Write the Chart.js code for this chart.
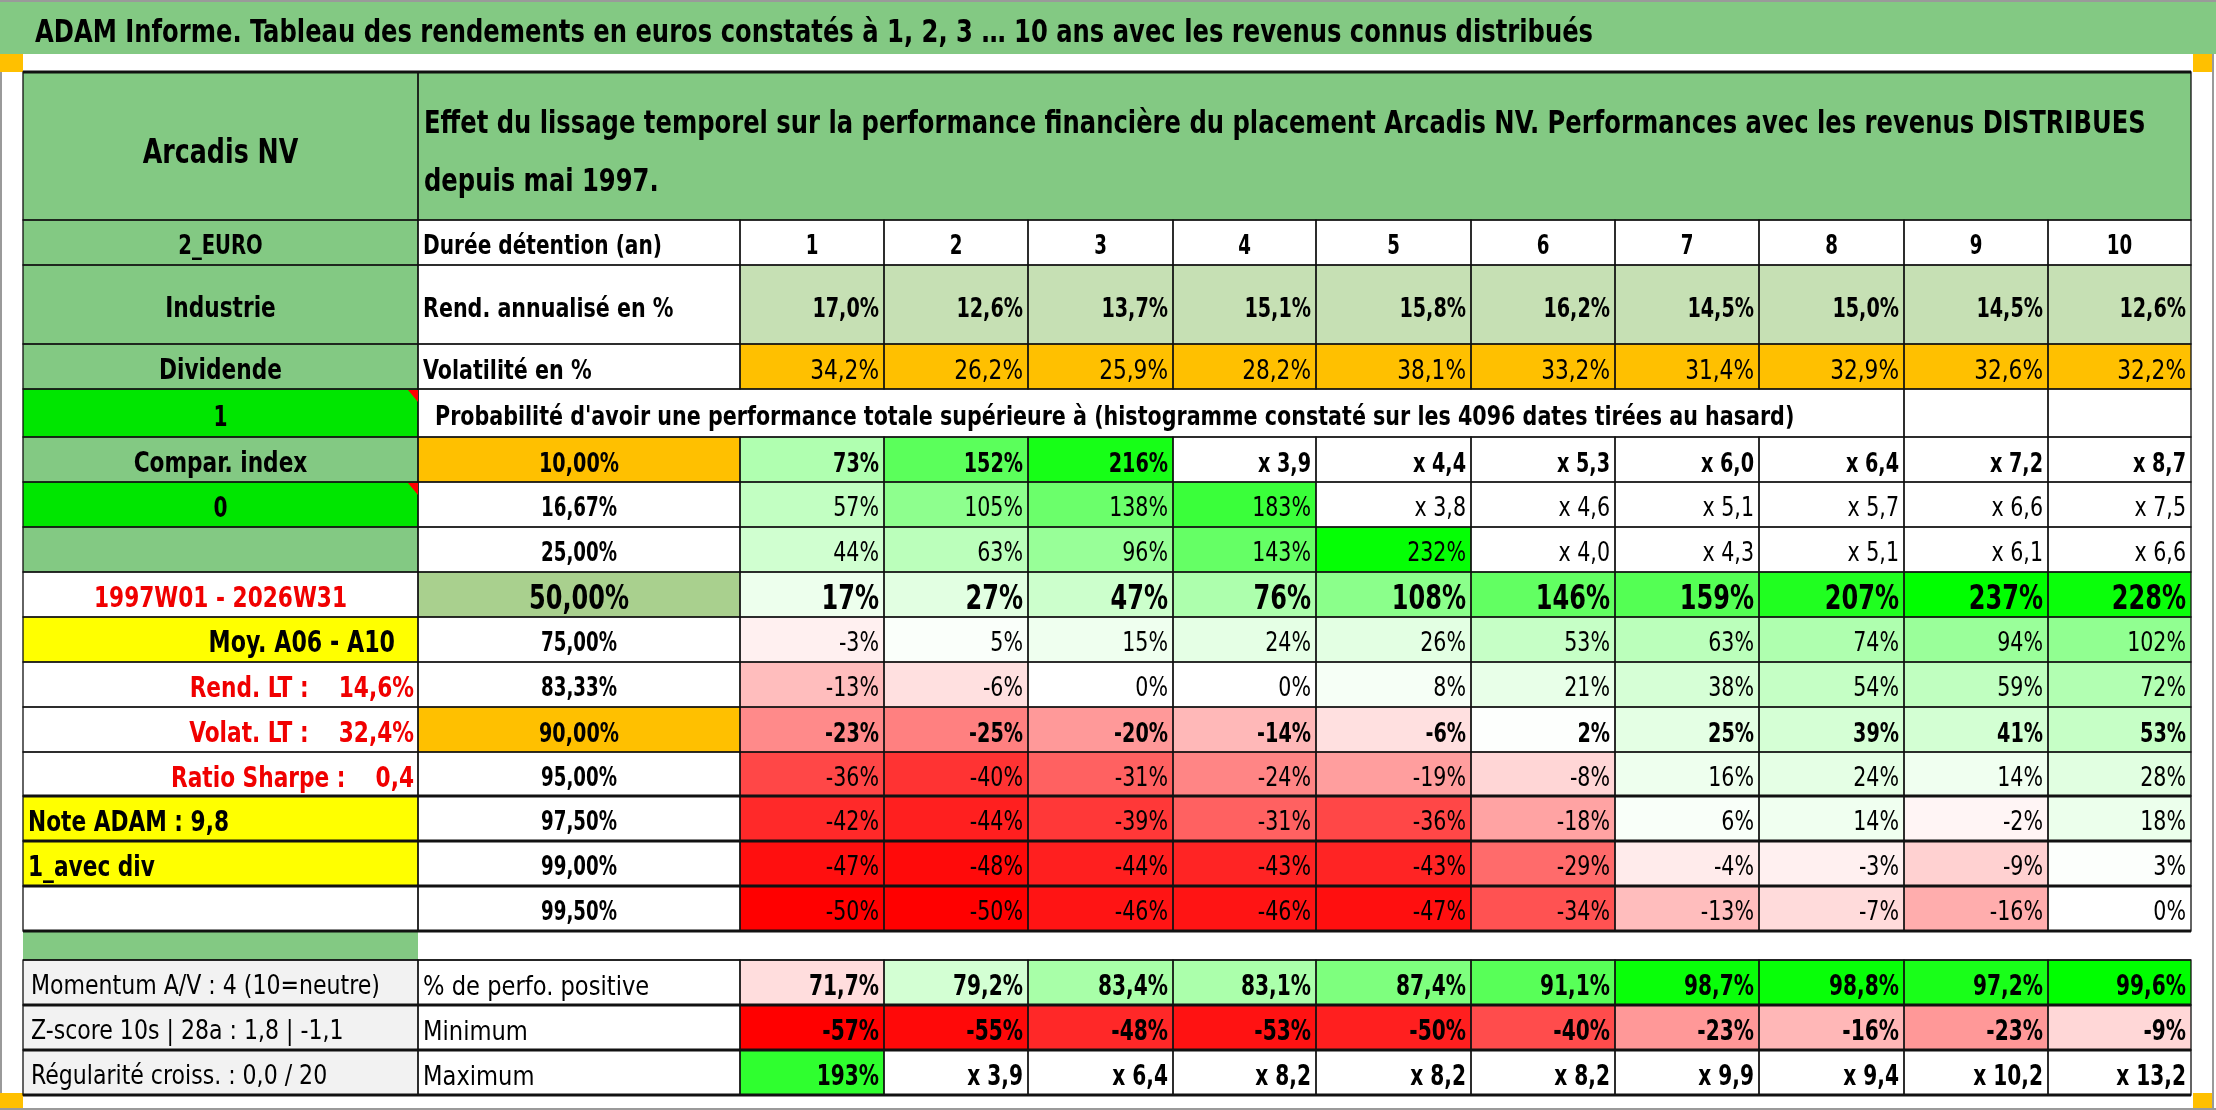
<!DOCTYPE html>
<html lang="fr">
<head>
<meta charset="utf-8">
<title>ADAM Informe – Arcadis NV</title>
<script src="https://cdn.jsdelivr.net/npm/chart.js@4.4.1/dist/chart.umd.min.js"></script>
<style>
  html, body { margin: 0; padding: 0; background: #fff; overflow: hidden; }
  #wrap { width: 2216px; height: 1110px; }
</style>
</head>
<body>
<div id="wrap"><canvas id="tableau" width="2216" height="1110"></canvas></div>
<script>
// ---- textes ----
const titre = 'ADAM Informe. Tableau des rendements en euros constatés à 1, 2, 3 … 10 ans avec les revenus connus distribués';
const enTete = [
  'Effet du lissage temporel sur la performance financière du placement Arcadis NV. Performances avec les revenus DISTRIBUES',
  'depuis mai 1997.'
];
const probaTexte = "Probabilité d'avoir une performance totale supérieure à (histogramme constaté sur les 4096 dates tirées au hasard)";
const libelles = ['Durée détention (an)', 'Rend. annualisé en %', 'Volatilité en %'];
const libellesBas = ['% de perfo. positive', 'Minimum', 'Maximum'];
const gaucheTextes = [
  'Arcadis NV', '2_EURO', 'Industrie', 'Dividende', '1', 'Compar. index', '0', '',
  '1997W01 - 2026W31', 'Moy. A06 - A10', 'Rend. LT :    14,6%', 'Volat. LT :    32,4%',
  'Ratio Sharpe :    0,4', 'Note ADAM : 9,8', '1_avec div', '', '',
  'Momentum A/V : 4 (10=neutre)', 'Z-score 10s | 28a : 1,8 | -1,1', 'Régularité croiss. : 0,0 / 20'
];

// ---- valeurs ----
const durees = ['1', '2', '3', '4', '5', '6', '7', '8', '9', '10'];
const rendAnnualise = [17.0, 12.6, 13.7, 15.1, 15.8, 16.2, 14.5, 15.0, 14.5, 12.6];
const volatilite = [34.2, 26.2, 25.9, 28.2, 38.1, 33.2, 31.4, 32.9, 32.6, 32.2];
const seuils = [10.00, 16.67, 25.00, 50.00, 75.00, 83.33, 90.00, 95.00, 97.50, 99.00, 99.50];

// performance totale en % (les multiples sont gardés tels qu'affichés)
const perf10   = [73, 152, 216, 'x 3,9', 'x 4,4', 'x 5,3', 'x 6,0', 'x 6,4', 'x 7,2', 'x 8,7'];
const perf1667 = [57, 105, 138, 183, 'x 3,8', 'x 4,6', 'x 5,1', 'x 5,7', 'x 6,6', 'x 7,5'];
const perf25   = [44, 63, 96, 143, 232, 'x 4,0', 'x 4,3', 'x 5,1', 'x 6,1', 'x 6,6'];
const perf50   = [17, 27, 47, 76, 108, 146, 159, 207, 237, 228];
const perf75   = [-3, 5, 15, 24, 26, 53, 63, 74, 94, 102];
const perf8333 = [-13, -6, 0, 0, 8, 21, 38, 54, 59, 72];
const perf90   = [-23, -25, -20, -14, -6, 2, 25, 39, 41, 53];
const perf95   = [-36, -40, -31, -24, -19, -8, 16, 24, 14, 28];
const perf975  = [-42, -44, -39, -31, -36, -18, 6, 14, -2, 18];
const perf99   = [-47, -48, -44, -43, -43, -29, -4, -3, -9, 3];
const perf995  = [-50, -50, -46, -46, -47, -34, -13, -7, -16, 0];
const perfRows = [perf10, perf1667, perf25, perf50, perf75, perf8333, perf90, perf95, perf975, perf99, perf995];

const pctPositive = [71.7, 79.2, 83.4, 83.1, 87.4, 91.1, 98.7, 98.8, 97.2, 99.6];
const minimum = [-57, -55, -48, -53, -50, -40, -23, -16, -23, -9];
const maximum = [193, 'x 3,9', 'x 6,4', 'x 8,2', 'x 8,2', 'x 8,2', 'x 9,9', 'x 9,4', 'x 10,2', 'x 13,2'];

// ---- mise en page (largeurs / hauteurs en px) ----
const colWidths = [395, 322, 144, 144, 145, 143, 155, 144, 144, 145, 144, 143];
const rowHeights = [148, 45, 79, 45, 48, 45, 45, 45, 45, 45, 45, 45, 44, 45, 45, 45, 29, 45, 45, 45];
const thickEdges = [13, 14, 15, 16, 18, 19, 20];

const cumul = arr => arr.reduce((acc, w) => { acc.push(acc[acc.length - 1] + w); return acc; }, [0]);
const colEdges = cumul(colWidths);
const rowEdges = cumul(rowHeights);

const FONT = "'Liberation Sans Narrow', 'DejaVu Sans Condensed', 'Liberation Sans', sans-serif";
const VERT = '#83c983', VIF = '#00e600', JAUNE = '#ffff00', GRIS = '#f2f2f2', ROUGE = '#f00000';
const ORANGE = '#ffc000', VERT_CLAIR = '#c6e0b4', VERT_50 = '#a9d08e';

const pct1 = v => v.toFixed(1).replace('.', ',') + '%';
const pct2 = v => v.toFixed(2).replace('.', ',') + '%';
const fmtPerf = v => typeof v === 'number' ? v + '%' : v;

// échelle de couleurs rouge - blanc - vert
function mix(t, r, g, b) {
  t = Math.max(0, Math.min(1, t));
  const c = (from, to) => Math.round(from + (to - from) * t);
  return `rgb(${c(255, r)},${c(255, g)},${c(255, b)})`;
}
function heat(v, lo, mid, hi) {
  if (typeof v !== 'number') return '#ffffff';
  if (v >= mid) return mix((v - mid) / (hi - mid), 0, 255, 0);
  return mix((mid - v) / (mid - lo), 255, 0, 0);
}
const blocMin = Math.min(...perfRows.flat().filter(v => typeof v === 'number'));
const blocMax = Math.max(...perfRows.flat().filter(v => typeof v === 'number'));

// ---- construction des cellules ----
const cells = [];
function cell(r, c0, c1, o) {
  cells.push(Object.assign({ r, c0, c1, fill: '#ffffff', border: true, text: '', align: 'center',
    bold: true, cap: 20, color: '#000', pad: 5, dy: 2 }, o));
}

const gaucheStyle = [
  { fill: VERT, cap: 24.5, dy: 5 }, { fill: VERT, cap: 19 }, { fill: VERT, cap: 21 }, { fill: VERT, cap: 21 },
  { fill: VIF, cap: 21, flag: true }, { fill: VERT, cap: 21 }, { fill: VIF, cap: 21, flag: true }, { fill: VERT },
  { color: ROUGE, cap: 21 }, { fill: JAUNE, align: 'right', pad: 23, cap: 21.5 },
  { color: ROUGE, align: 'right', pad: 4, cap: 21 }, { color: ROUGE, align: 'right', pad: 4, cap: 21 },
  { color: ROUGE, align: 'right', pad: 4, cap: 21 }, { fill: JAUNE, align: 'left', cap: 21 },
  { fill: JAUNE, align: 'left', cap: 21 }, {}, { fill: VERT, border: false },
  { fill: GRIS, align: 'left', bold: false, cap: 19.5, pad: 8 }, { fill: GRIS, align: 'left', bold: false, cap: 19.5, pad: 8 },
  { fill: GRIS, align: 'left', bold: false, cap: 19.5, pad: 8 }
];
gaucheTextes.forEach((t, r) => cell(r, 0, 1, Object.assign({ text: t }, gaucheStyle[r])));

// en-tête fusionné
cell(0, 1, 12, { fill: VERT, lines: enTete, cap: 23.5, align: 'left' });

// durée / rendement / volatilité
libelles.forEach((t, i) => cell(1 + i, 1, 2, { text: t, align: 'left', cap: i === 0 ? 19.5 : 20 }));
durees.forEach((d, i) => cell(1, 2 + i, 3 + i, { text: d, cap: 19 }));
rendAnnualise.forEach((v, i) => cell(2, 2 + i, 3 + i, { text: pct1(v), fill: VERT_CLAIR, align: 'right', cap: 20 }));
volatilite.forEach((v, i) => cell(3, 2 + i, 3 + i, { text: pct1(v), fill: ORANGE, align: 'right', bold: false, cap: 20 }));

// ligne probabilité
cell(4, 1, 10, { text: probaTexte, align: 'left', pad: 17, cap: 20 });
cell(4, 10, 11, {});
cell(4, 11, 12, {});

// bloc des seuils
const seuilStyle = {
  0: { fill: ORANGE, bold: true, cap: 20 },
  3: { fill: VERT_50, bold: true, cap: 25 },
  6: { fill: ORANGE, bold: true, cap: 20 }
};
seuils.forEach((s, k) => {
  const st = seuilStyle[k] || { bold: false, cap: 19 };
  const r = 5 + k;
  cell(r, 1, 2, { text: pct2(s), fill: st.fill || '#ffffff', bold: true, cap: st.cap });
  perfRows[k].forEach((v, i) => cell(r, 2 + i, 3 + i, {
    text: fmtPerf(v), align: 'right', bold: st.bold, cap: st.cap,
    fill: heat(v, blocMin, 0, blocMax)
  }));
});

// ligne vide
cell(16, 1, 12, { border: false });

// statistiques du bas
libellesBas.forEach((t, i) => cell(17 + i, 1, 2, { text: t, align: 'left', bold: false, cap: 20 }));
pctPositive.forEach((v, i) => cell(17, 2 + i, 3 + i, { text: pct1(v), align: 'right', cap: 21,
  fill: heat(v, 50, 75, Math.max(...pctPositive)) }));
minimum.forEach((v, i) => cell(18, 2 + i, 3 + i, { text: fmtPerf(v), align: 'right', cap: 21,
  fill: heat(v, Math.min(...minimum), 0, blocMax) }));
maximum.forEach((v, i) => cell(19, 2 + i, 3 + i, { text: fmtPerf(v), align: 'right', cap: 21,
  fill: heat(v, blocMin, 0, blocMax) }));

// ---- dessin du tableau via les échelles du graphique ----
// largeurs relevées sur la référence (en hauteurs de capitale) pour caler la police de remplacement
let capRatio = null;
const squeeze = { txt: { true: 1, false: 1 }, num: { true: 1, false: 1 } };
function calibrate(ctx) {
  const m = (txt, bold) => { ctx.font = `${bold ? 'bold ' : ''}100px ${FONT}`; return ctx.measureText(txt); };
  capRatio = { true: m('H', true).actualBoundingBoxAscent / 100, false: m('H', false).actualBoundingBoxAscent / 100 };
  const perCap = (txt, bold) => m(txt, bold).width / (capRatio[bold] * 100);
  squeeze.txt.true = (1559 / 23.5) / perCap(titre, true);
  squeeze.txt.false = (349 / 19.5) / perCap('Momentum A/V : 4 (10=neutre)', false);
  squeeze.num.true = 4.0 / perCap('50,00%', true);
  squeeze.num.false = 3.1 / perCap('105%', false);
}
const isNum = s => /\d/.test(s) && /^[-x\s\d,.%]+$/.test(s);

function drawText(ctx, str, x, yMid, o) {
  const bold = !!o.bold;
  const size = o.cap / capRatio[bold];
  const sx = (isNum(str) ? squeeze.num : squeeze.txt)[bold];
  ctx.save();
  ctx.font = `${bold ? 'bold ' : ''}${size.toFixed(2)}px ${FONT}`;
  ctx.fillStyle = o.color || '#000';
  ctx.textAlign = o.align || 'left';
  ctx.textBaseline = 'alphabetic';
  ctx.translate(x, yMid + o.cap / 2);
  ctx.scale(sx, 1);
  if (o.maxWidth) ctx.fillText(str, 0, 0, o.maxWidth / sx);
  else ctx.fillText(str, 0, 0);
  ctx.restore();
}

const tablePlugin = {
  id: 'tableau',
  beforeDraw(chart) {
    const { ctx, width, height, chartArea } = chart;
    if (!capRatio) calibrate(ctx);
    const barH = chartArea.top - 18;
    ctx.save();
    ctx.fillStyle = '#ffffff';
    ctx.fillRect(0, 0, width, height);
    ctx.fillStyle = VERT;
    ctx.fillRect(0, 0, width, barH);
    ctx.fillStyle = '#9a9a9a';
    ctx.fillRect(0, 0, width, 2);
    ctx.fillRect(0, barH, 2, height - barH);
    ctx.fillRect(width - 4, barH, 2, height - barH);
    ctx.fillRect(0, height - 2, width, 2);
    ctx.fillStyle = ORANGE;
    ctx.fillRect(0, barH, chartArea.left, 18);
    ctx.fillRect(chartArea.right + 2, barH, width - chartArea.right - 6, 18);
    ctx.fillRect(0, chartArea.bottom - 2, chartArea.left, 15);
    ctx.fillRect(chartArea.right + 2, chartArea.bottom - 2, width - chartArea.right - 6, 15);
    ctx.restore();
    drawText(ctx, titre, 35, barH / 2 + 3, { bold: true, cap: 23.5, align: 'left' });
  },
  afterDraw(chart) {
    const { ctx } = chart;
    const xs = chart.scales.x, ys = chart.scales.y;
    const px = c => xs.getPixelForValue(colEdges[c]);
    const py = r => ys.getPixelForValue(rowEdges[r]);

    // fonds
    cells.forEach(c => {
      ctx.fillStyle = c.fill;
      ctx.fillRect(px(c.c0), py(c.r), px(c.c1) - px(c.c0), py(c.r + 1) - py(c.r));
    });
    // bordures fines
    ctx.save();
    ctx.strokeStyle = '#111';
    ctx.lineWidth = 1.3;
    cells.filter(c => c.border).forEach(c => {
      ctx.strokeRect(px(c.c0), py(c.r), px(c.c1) - px(c.c0), py(c.r + 1) - py(c.r));
    });
    ctx.beginPath();
    ctx.moveTo(px(0), py(17)); ctx.lineTo(px(12), py(17));
    ctx.stroke();
    // bordures épaisses
    ctx.lineWidth = 3;
    ctx.beginPath();
    thickEdges.forEach(e => { ctx.moveTo(px(0), py(e)); ctx.lineTo(px(12), py(e)); });
    ctx.moveTo(px(0), py(0)); ctx.lineTo(px(12), py(0));
    ctx.stroke();
    ctx.restore();

    // indicateurs de commentaire
    cells.filter(c => c.flag).forEach(c => {
      const x = px(c.c1), y = py(c.r) + 1;
      ctx.fillStyle = '#ff0000';
      ctx.beginPath();
      ctx.moveTo(x - 10, y); ctx.lineTo(x, y); ctx.lineTo(x, y + 12); ctx.closePath();
      ctx.fill();
    });

    // textes
    cells.forEach(c => {
      const x0 = px(c.c0), x1 = px(c.c1), y0 = py(c.r), y1 = py(c.r + 1);
      if (c.lines) {
        c.lines.forEach((t, i) => drawText(ctx, t, x0 + 6, y0 + 49 + i * 58, c));
        return;
      }
      if (!c.text) return;
      const x = c.align === 'left' ? x0 + c.pad : c.align === 'right' ? x1 - c.pad : (x0 + x1) / 2;
      drawText(ctx, c.text, x, (y0 + y1) / 2 + c.dy, Object.assign({}, c, { maxWidth: x1 - x0 - 4 }));
    });
  }
};

new Chart(document.getElementById('tableau').getContext('2d'), {
  type: 'bar',
  data: { datasets: [] },
  options: {
    responsive: false,
    devicePixelRatio: 1,
    animation: false,
    events: [],
    layout: { padding: { left: 23, right: 25, top: 72, bottom: 15 } },
    plugins: { legend: { display: false }, tooltip: { enabled: false }, title: { display: false } },
    scales: {
      x: { type: 'linear', offset: false, min: 0, max: colEdges[colEdges.length - 1], display: false },
      y: { type: 'linear', offset: false, min: 0, max: rowEdges[rowEdges.length - 1], reverse: true, display: false }
    }
  },
  plugins: [tablePlugin]
});
</script>
</body>
</html>
